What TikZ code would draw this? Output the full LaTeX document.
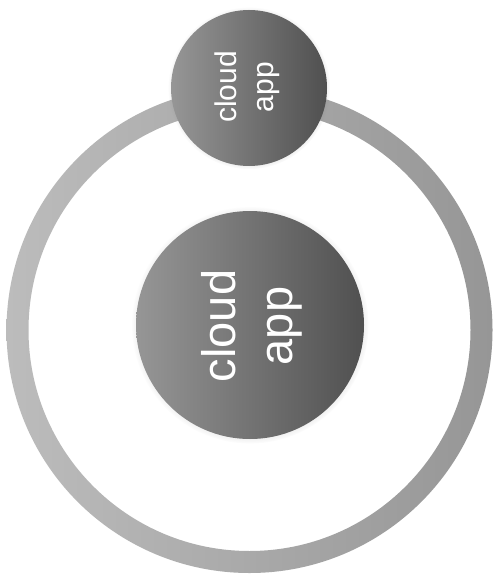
\documentclass[tikz,border=0pt]{standalone}
\usepackage{fontspec}
\setmainfont{Liberation Sans}
\usetikzlibrary{shadows}
\definecolor{ringL}{RGB}{188,188,188}
\definecolor{ringR}{RGB}{150,150,150}
\definecolor{discL}{RGB}{150,150,150}
\definecolor{discR}{RGB}{80,80,80}
\begin{document}
\begin{tikzpicture}[x=1pt,y=-1pt,
  disc/.style={circle, inner sep=0pt, draw=none, left color=discL, right color=discR,
    circular drop shadow={shadow xshift=0pt, shadow yshift=0pt, shadow scale=1.04, opacity=.35}},
  lbl/.style={text=white, align=center, rotate=90, inner sep=0pt}]
\useasboundingbox (0,0) rectangle (497,580);
\fill[white] (0,0) rectangle (497,580);
% outer ring
\path[even odd rule, left color=ringL, right color=ringR]
  (249.5,330) circle[radius=243] (249.5,330) circle[radius=221];
% central disc
\node[disc, minimum size=228pt] (big) at (250,325) {};
\node[lbl, font=\fontsize{47}{57}\selectfont] (bigtxt) at (252,326) {cloud\\app};
% top disc
\node[disc, minimum size=156pt] (small) at (249,88) {};
\node[lbl, font=\fontsize{30}{37}\selectfont] (smalltxt) at (247,87) {cloud\\app};
\end{tikzpicture}
\end{document}
